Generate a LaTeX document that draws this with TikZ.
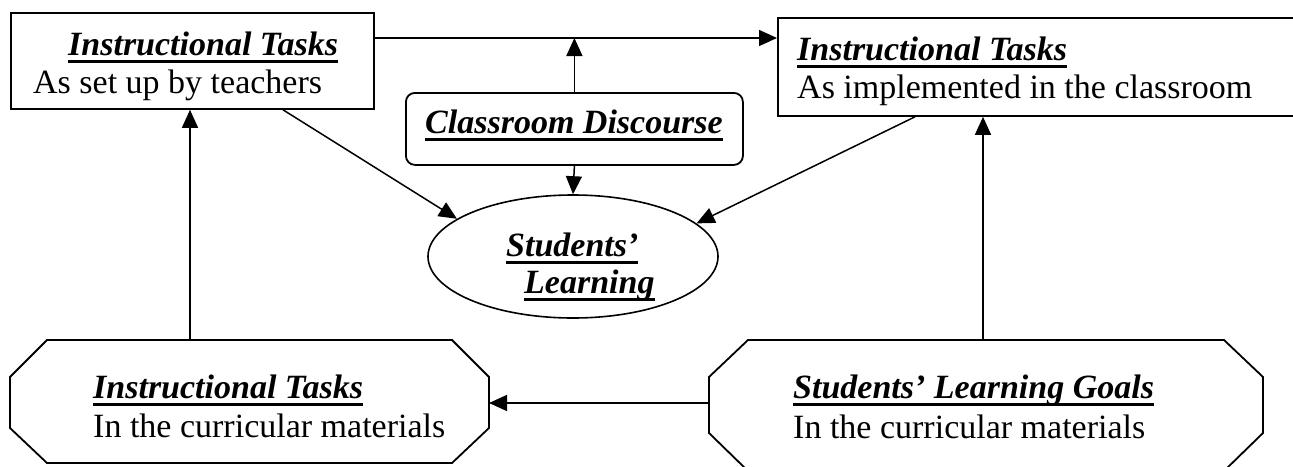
\documentclass[tikz,border=0pt]{standalone}
\usepackage{fontspec}
\setmainfont{Liberation Serif}
\usetikzlibrary{arrows.meta,shapes.geometric}
\newcommand{\ulttl}[1]{\setbox0=\hbox{\bfseries\itshape #1}\leavevmode\rlap{\rule[-7.5pt]{\wd0}{3pt}}\box0}
\begin{document}
\begin{tikzpicture}[x=1pt,y=-1pt,font=\fontsize{34}{40}\selectfont,
  boxshape/.style={draw,line width=1.8pt,inner sep=0pt,anchor=north west},
  octframe/.style={inner sep=0pt,outer sep=0pt},
  octline/.style={line width=1.8pt,line join=miter},
  conn/.style={line width=1.5pt,-{Triangle[length=18pt,width=16pt]}},
  txt/.style={inner sep=0pt,anchor=base west}]
\useasboundingbox (0,0) rectangle (1293,466);
\fill[white] (0,0) rectangle (1293,466);
\clip (0,0) rectangle (1293,466);
% boxes
\node[boxshape,minimum width=363pt,minimum height=96pt] (b1) at (10,12) {};
\node[boxshape,minimum width=530pt,minimum height=98pt] (b2) at (777,17) {};
\node[boxshape,rounded corners=9pt,minimum width=337pt,minimum height=72pt] (cd) at (405,92) {};
\node[draw,ellipse,line width=1.6pt,inner sep=0pt,minimum width=290pt,minimum height=123pt] (sl) at (573,256.5) {};
% octagons
\node[octframe,minimum width=479pt,minimum height=123pt] (oL) at (249.5,401.5) {};
\draw[octline] ([xshift=37pt]oL.north west) -- ([xshift=-37pt]oL.north east)
  -- ([yshift=-37pt]oL.north east) -- ([yshift=35pt]oL.south east)
  -- ([xshift=-37pt]oL.south east) -- ([xshift=37pt]oL.south west)
  -- ([yshift=35pt]oL.south west) -- ([yshift=-37pt]oL.north west) -- cycle;
\node[octframe,minimum width=554pt,minimum height=131pt] (oR) at (986,405.5) {};
\draw[octline] ([xshift=39pt]oR.north west) -- ([xshift=-39pt]oR.north east)
  -- ([yshift=-37pt]oR.north east) -- ([yshift=38pt]oR.south east)
  -- ([xshift=-39pt]oR.south east) -- ([xshift=39pt]oR.south west)
  -- ([yshift=38pt]oR.south west) -- ([yshift=-37pt]oR.north west) -- cycle;
% texts
\node[txt] (t1a) at (68,55) {\ulttl{Instructional Tasks}};
\node[txt] (t1b) at (33,93) {As set up by teachers};
\node[txt] (t2a) at (797,60) {\ulttl{Instructional Tasks}};
\node[txt] (t2b) at (797,98) {As implemented in the classroom};
\node[txt] (tcd) at (425,133) {\ulttl{Classroom Discourse}};
\node[txt] (ts1) at (506,256) {\ulttl{Students’}};
\node[txt] (ts2) at (524,293) {\ulttl{Learning}};
\node[txt] (t3a) at (93,398) {\ulttl{Instructional Tasks}};
\node[txt] (t3b) at (93,437) {In the curricular materials};
\node[txt] (t4a) at (793,398) {\ulttl{Students’ Learning Goals}};
\node[txt] (t4b) at (793,438) {In the curricular materials};
% helper coordinates
\coordinate (ytop) at (0,38);
\coordinate (yh) at (0,403);
\coordinate (xl) at (190,0);
\coordinate (xr) at (983,0);
\coordinate (xs1) at (283,0);
\coordinate (xs2) at (915,0);
% connectors
\draw[conn] (b1.east |- ytop) -- (b2.west |- ytop);
\draw[conn] (cd.north) -- (cd.north |- ytop);
\draw[conn] (cd.south) -- (sl.north);
\draw[conn] (xs1 |- b1.south) -- (sl.162);
\draw[conn] (xs2 |- b2.south) -- (sl.15);
\draw[conn] (xl |- oL.north) -- (xl |- b1.south);
\draw[conn] (xr |- oR.north) -- (xr |- b2.south);
\draw[conn] (oR.west |- yh) -- (oL.east |- yh);
\end{tikzpicture}
\end{document}
